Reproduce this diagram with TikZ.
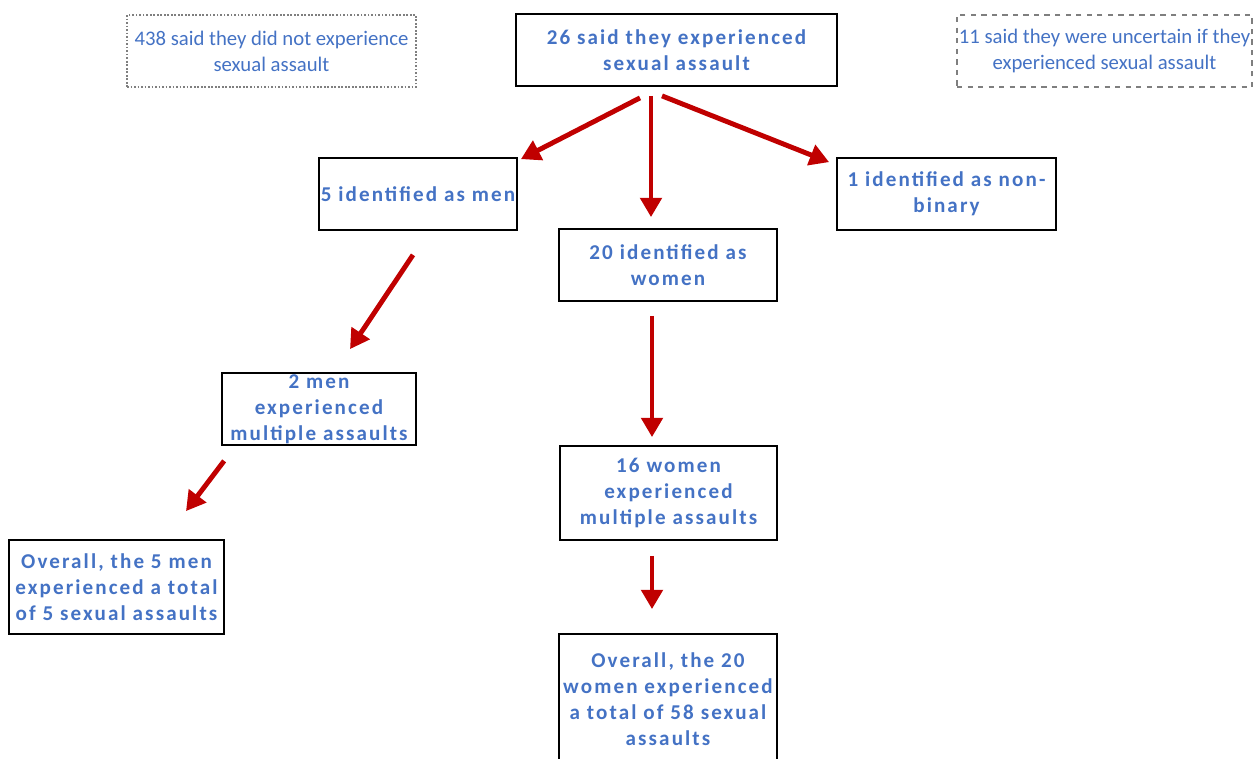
\documentclass[tikz,border=0pt]{standalone}
\usepackage{fontspec}
\setmainfont{Carlito}
\newfontfamily\widefont{Carlito}[LetterSpace=10]
\usetikzlibrary{arrows.meta,calc}
\definecolor{textblue}{HTML}{4472C4}
\definecolor{arrowred}{HTML}{C00000}
\definecolor{outlinegray}{HTML}{7F7F7F}
\tikzset{
  boxsize/.style 2 args={minimum width=#1*0.02cm,minimum height=#2*0.02cm},
  box/.style={draw=black,line width=1pt,text=textblue,align=center,inner sep=0pt,
    font=\widefont\bfseries\fontsize{12}{14.7}\selectfont},
  note/.style={draw=outlinegray,line width=0.8pt,text=textblue,align=center,inner sep=0pt,
    font=\fontsize{11.8}{14.7}\selectfont},
  arrow/.style={draw=arrowred,line width=2.8pt,-{Triangle[length=11pt,width=12pt]}}
}
\begin{document}
\begin{tikzpicture}[x=0.02cm,y=-0.02cm]
    \useasboundingbox (0,0) rectangle (1254,758);
    % top row
    \node[note,dash pattern=on 1pt off 1pt,boxsize={289}{72}] (notexp) at (271.5,51) {438 said they did not experience\\sexual assault};
    \node[box,boxsize={321}{72}] (said) at (676.5,50) {26 said they experienced\\sexual assault};
    \node[note,dash pattern=on 3pt off 3pt,boxsize={295}{72}] (unsure) at (1104.5,51) {11 said they were uncertain if they\\experienced sexual assault};
    % gender
    \node[box,boxsize={198}{72}] (men) at (418,194) {5 identified as men};
    \node[box,boxsize={219}{72}] (nonbin) at (946.5,194) {1 identified as non-\\binary};
    \node[box,boxsize={218}{72}] (women) at (668,265) {20 identified as\\women};
    % multiple assaults
    \node[box,boxsize={194}{72}] (menmult) at (319,409) {2 men\\experienced\\multiple assaults};
    \node[box,boxsize={217}{94}] (womenmult) at (668.5,493) {16 women\\experienced\\multiple assaults};
    % totals
    \node[box,boxsize={215}{94}] (mentotal) at (116.5,587) {Overall, the 5 men\\experienced a total\\of 5 sexual assaults};
    \node[box,boxsize={218}{130}] (womentotal) at (668,699) {Overall, the 20\\women experienced\\a total of 58 sexual\\assaults};
    % arrows
    \draw[arrow] ($(said.south)+(-36.5,11)$) -- ($(men.north east)+(3,2)$);
    \draw[arrow] ($(said.south)+(-25.5,9)$) -- ($(women.north)+(-17,-11)$);
    \draw[arrow] ($(said.south)+(-14.5,9)$) -- ($(nonbin.north west)+(-7,5)$);
    \draw[arrow] ($(men.south)+(-5,24)$) -- ($(menmult.north)+(31,-23)$);
    \draw[arrow] ($(women.south)+(-16,14)$) -- ($(womenmult.north)+(-16.5,-8)$);
    \draw[arrow] ($(menmult.south west)+(3,15)$) -- ($(mentotal.north)+(69.5,-28)$);
    \draw[arrow] ($(womenmult.south)+(-16.5,15)$) -- ($(womentotal.north)+(-16,-24)$);
\end{tikzpicture}
\end{document}
